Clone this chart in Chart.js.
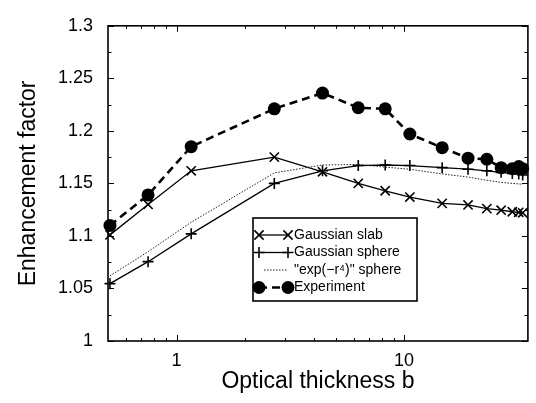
<!DOCTYPE html>
<html>
<head>
<meta charset="utf-8">
<script src="https://cdn.jsdelivr.net/npm/chart.js@4.4.1/dist/chart.umd.min.js"></script>
<style>
  html, body { margin: 0; padding: 0; background: #fff; }
  #chartContainer { position: relative; width: 536px; height: 403px; }
</style>
</head>
<body>
<div id="chartContainer"><canvas id="enhancementChart"></canvas></div>
<script>
// optical thickness values (same for model curves and measurement)
const opticalThickness = [0.51, 0.75, 1.16, 2.69, 4.38, 6.29, 8.26, 10.6, 14.7, 19.1, 23.1, 26.7, 29.9, 31.9, 33.2];

const gaussianSlab   = [1.101, 1.130, 1.162, 1.175, 1.161, 1.150, 1.143, 1.137, 1.131, 1.1295, 1.126, 1.1245, 1.123, 1.1225, 1.122];
const gaussianSphere = [1.0546, 1.0755, 1.102, 1.150, 1.162, 1.167, 1.1675, 1.167, 1.165, 1.1635, 1.162, 1.1605, 1.1595, 1.159, 1.158];
const expR4Sphere    = [1.062, 1.085, 1.113, 1.160, 1.1675, 1.168, 1.1655, 1.1635, 1.159, 1.156, 1.153, 1.151, 1.150, 1.1495, 1.149];
const experiment     = [1.110, 1.139, 1.185, 1.221, 1.236, 1.222, 1.221, 1.197, 1.184, 1.174, 1.173, 1.165, 1.164, 1.166, 1.164];

const seriesNames = ['Gaussian slab', 'Gaussian sphere', '"exp(\u2212r\u2074)" sphere', 'Experiment'];

// axis ticks
const xTickValues = [1, 10];
const xMinorTicks = [0.6, 0.7, 0.8, 0.9, 2, 3, 4, 5, 6, 7, 8, 9];
const yTickValues = [1, 1.05, 1.1, 1.15, 1.2, 1.25, 1.3];
const yMinorTicks = [1.025, 1.075, 1.125, 1.175, 1.225, 1.275];

const FONT = 'Liberation Sans, Arial, Helvetica, sans-serif';

function toPoints(values) {
    return values.map((v, i) => ({ x: opticalThickness[i], y: v }));
}

//---------------------------------
// frame with inward ticks on all four sides
const frameTicks = {
    id: 'frameTicks',
    afterDatasetsDraw(chart) {
        const { ctx, chartArea: a, scales: { x, y } } = chart;
        ctx.save();
        ctx.strokeStyle = '#000';
        ctx.lineWidth = 1;
        ctx.beginPath();
        const tickX = (vals, len) => vals.forEach(v => {
            const px = Math.round(x.getPixelForValue(v)) + 0.5;
            ctx.moveTo(px, a.bottom); ctx.lineTo(px, a.bottom - len);
            ctx.moveTo(px, a.top); ctx.lineTo(px, a.top + len);
        });
        const tickY = (vals, len) => vals.forEach(v => {
            const py = Math.round(y.getPixelForValue(v)) + 0.5;
            ctx.moveTo(a.left, py); ctx.lineTo(a.left + len, py);
            ctx.moveTo(a.right, py); ctx.lineTo(a.right - len, py);
        });
        tickX(xTickValues.filter(v => v > x.min && v < x.max), 6);
        tickX(xMinorTicks, 3);
        tickY(yTickValues, 6);
        tickY(yMinorTicks, 3.5);
        ctx.stroke();

        ctx.lineWidth = 1.6;
        ctx.strokeRect(a.left, a.top, a.right - a.left, a.bottom - a.top);
        ctx.restore();
    }
};

//---------------------------------
// boxed legend inside the plot
const boxLegend = {
    id: 'boxLegend',
    afterDraw(chart) {
        const ctx = chart.ctx;
        const box = { left: 253, top: 218, width: 164, height: 83 };
        const rowH = 17.5;
        ctx.save();
        ctx.fillStyle = '#fff';
        ctx.fillRect(box.left, box.top, box.width, box.height);
        ctx.strokeStyle = '#000';
        ctx.lineWidth = 1.6;
        ctx.strokeRect(box.left, box.top, box.width, box.height);

        chart.data.datasets.forEach((ds, i) => {
            const yy = box.top + rowH * (i + 1) - 0.5;
            const x0 = box.left + 6, x1 = box.left + 35;
            ctx.save();
            ctx.strokeStyle = ds.borderColor;
            ctx.fillStyle = ds.borderColor;
            ctx.lineWidth = ds.borderWidth;
            ctx.setLineDash(ds.borderDash || []);
            ctx.beginPath();
            ctx.moveTo(ds.pointRadius ? x0 : x0 + 5, yy);
            ctx.lineTo(x1, yy);
            ctx.stroke();
            ctx.setLineDash([]);
            if (ds.pointRadius) {
                ctx.lineWidth = ds.pointBorderWidth;
                const opts = { pointStyle: ds.pointStyle, radius: ds.pointRadius, borderWidth: ds.pointBorderWidth, rotation: 0 };
                Chart.helpers.drawPoint(ctx, opts, x0, yy);
                Chart.helpers.drawPoint(ctx, opts, x1, yy);
            }
            ctx.restore();

            ctx.fillStyle = '#000';
            ctx.font = '14px ' + FONT;
            ctx.textBaseline = 'middle';
            ctx.textAlign = 'left';
            ctx.fillText(ds.label, x1 + 6, yy);
        });
        ctx.restore();
    }
};

const ctx = document.getElementById('enhancementChart');

new Chart(ctx, {
    type: 'line',
    data: {
        datasets: [{
            label: seriesNames[0],
            data: toPoints(gaussianSlab),
            borderColor: '#000',
            borderWidth: 1.3,
            pointStyle: 'crossRot',
            pointRadius: 6.5,
            pointBorderWidth: 1.6,
            order: 2,
            clip: false
        }, {
            label: seriesNames[1],
            data: toPoints(gaussianSphere),
            borderColor: '#000',
            borderWidth: 1.3,
            pointStyle: 'cross',
            pointRadius: 5.5,
            pointBorderWidth: 1.6,
            order: 3,
            clip: false
        }, {
            label: seriesNames[2],
            data: toPoints(expR4Sphere),
            borderColor: '#222',
            borderWidth: 1,
            borderDash: [1.5, 1.5],
            pointRadius: 0,
            order: 1,
            clip: false
        }, {
            label: seriesNames[3],
            data: toPoints(experiment),
            borderColor: '#000',
            backgroundColor: '#000',
            borderWidth: 2.6,
            borderDash: [8, 5],
            pointStyle: 'circle',
            pointRadius: 6.5,
            pointBackgroundColor: '#000',
            pointBorderWidth: 0,
            order: 0,
            clip: false
        }]
    },
    options: {
        responsive: true,
        maintainAspectRatio: false,
        animation: false,
        layout: { padding: { top: 15, right: 6, left: 0, bottom: 0 } },
        elements: { line: { tension: 0, fill: false } },
        plugins: {
            legend: { display: false },
            tooltip: { enabled: false }
        },
        scales: {
            x: {
                type: 'logarithmic',
                min: 0.5,
                max: 35,
                grid: { display: false, drawTicks: false },
                border: { display: false },
                afterBuildTicks: s => { s.ticks = xTickValues.map(v => ({ value: v })); },
                afterFit: s => { s.height = 62; },
                ticks: {
                    padding: 9,
                    color: '#000',
                    autoSkip: false,
                    maxRotation: 0,
                    font: { family: FONT, size: 18 },
                    callback: v => String(v)
                },
                title: {
                    display: true,
                    text: 'Optical thickness b',
                    color: '#000',
                    font: { family: FONT, size: 23 },
                    padding: { top: 0, bottom: 8 }
                }
            },
            y: {
                min: 1,
                max: 1.3,
                grid: { display: false, drawTicks: false },
                border: { display: false },
                afterBuildTicks: s => { s.ticks = yTickValues.map(v => ({ value: v })); },
                afterFit: s => { s.width = 108; },
                ticks: {
                    padding: 15,
                    color: '#000',
                    font: { family: FONT, size: 18 },
                    callback: v => String(+Number(v).toFixed(2))
                },
                title: {
                    display: true,
                    text: 'Enhancement factor',
                    color: '#000',
                    font: { family: FONT, size: 23 },
                    padding: { top: 15, bottom: 0 }
                }
            }
        }
    },
    plugins: [frameTicks, boxLegend]
});
</script>
</body>
</html>
